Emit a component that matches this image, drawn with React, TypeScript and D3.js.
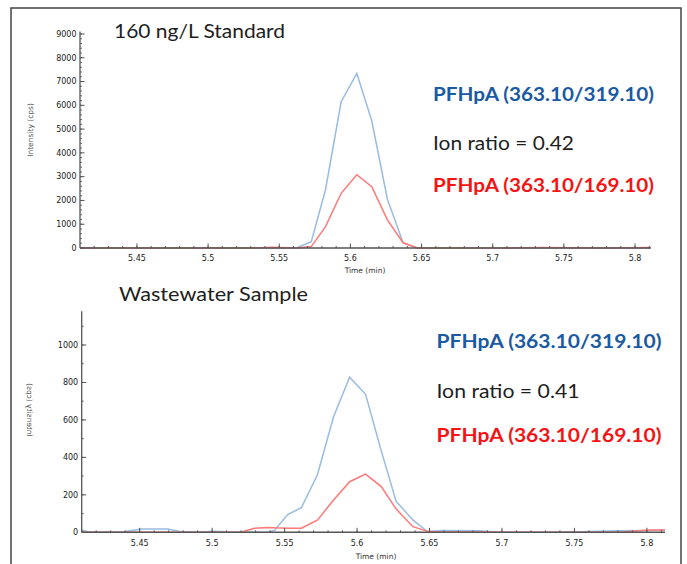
import React from "react";
import * as d3 from "d3";

// ---- Data ----
const topTimes = [5.41, 5.425, 5.48, 5.53, 5.545, 5.562, 5.5725, 5.5825, 5.5935, 5.6045, 5.615, 5.626, 5.637, 5.647, 5.665, 5.675, 5.71, 5.735, 5.78, 5.811];
const topBlue = [0, 0, 0, 0, 0, 0, 265, 2450, 6150, 7340, 5350, 2050, 220, 0, 0, 0, 0, 0, 0, 0];
const topRed = [0, 0, 0, 0, 30, 0, 60, 900, 2300, 3080, 2580, 1180, 220, 0, 0, 0, 0, 20, 0, 20];

const botTimes = [5.41, 5.4145, 5.437, 5.451, 5.4695, 5.4785, 5.4915, 5.5005, 5.506, 5.512, 5.5198, 5.5292, 5.5384, 5.543, 5.5521, 5.5616, 5.5726, 5.5838, 5.5949, 5.6059, 5.6167, 5.627, 5.6385, 5.6488, 5.658, 5.6845, 5.698, 5.74, 5.781, 5.8016, 5.8125];
const botBlue = [12, 3, 0, 18, 18, 3, 0, 5, 4, 0, 0, 0, 0, 10, 95, 132, 306, 617, 828, 737, 435, 165, 66, 3, 10, 8, 0, 0, 8, 10, 12];
const botRed = [0, 0, 0, 0, 0, 0, 0, 0, 0, 0, 0, 21, 26, 24, 22, 22, 65, 172, 270, 311, 244, 124, 30, 5, 2, 2, 0, 0, 0, 12, 12];

const xTickValues = [5.45, 5.5, 5.55, 5.6, 5.65, 5.7, 5.75, 5.8];
const xTickLabels = ["5.45", "5.5", "5.55", "5.6", "5.65", "5.7", "5.75", "5.8"];
const topYTicks = [0, 1000, 2000, 3000, 4000, 5000, 6000, 7000, 8000, 9000];
const botYTicks = [0, 200, 400, 600, 800, 1000];

const titles = ["160 ng/L Standard", "Wastewater Sample"];
const quantLabel = "PFHpA (363.10/319.10)";
const qualLabel = "PFHpA (363.10/169.10)";
const ionRatios = ["Ion ratio = 0.42", "Ion ratio = 0.41"];
const xAxisTitle = "Time (min)";
const yAxisTitle = "Intensity (cps)";

const BLUE_TRACE = "#98bce2";
const RED_TRACE = "#ff7878";
const AXIS = "#555";
const TICKFONT = "DejaVu Sans, sans-serif";
const TEXTFONT = "Lato, 'Open Sans', sans-serif";

type PanelProps = {
  times: number[];
  blue: number[];
  red: number[];
  xDomain: [number, number];
  xRange: [number, number];
  yDomain: [number, number];
  yRange: [number, number];
  yTicks: number[];
  yMinorStep: number;
  yMinorMax: number;
  xLabelY: number;
  xTitle: [number, number];
  yTitle: [number, number];
  mirrorYTitle: boolean;
};

function Panel(p: PanelProps) {
  const x = d3.scaleLinear().domain(p.xDomain).range(p.xRange);
  const y = d3.scaleLinear().domain(p.yDomain).range(p.yRange);
  const line = d3
    .line<number>()
    .x((_, i) => x(p.times[i]))
    .y((v) => y(v));
  const x0 = p.xRange[0];
  const y0 = y(0);
  const minorX = d3.range(5.42, 5.815, 0.01).filter((t) => t <= p.xDomain[1]);
  const minorY = d3.range(0, p.yMinorMax + 1, p.yMinorStep);
  return (
    <g>
      <path d={line(p.blue) || ""} fill="none" stroke={BLUE_TRACE} strokeWidth={1.5} />
      <path d={line(p.red) || ""} fill="none" stroke={RED_TRACE} strokeWidth={1.5} />
      {/* axes */}
      <line x1={x0} x2={x0} y1={p.yRange[1]} y2={y0} stroke={AXIS} strokeWidth={1.3} />
      <line x1={x0} x2={p.xRange[1]} y1={y0} y2={y0} stroke={AXIS} strokeWidth={1.6} />
      {minorY.map((v) => (
        <line key={"my" + v} x1={x0} x2={x0 + 2} y1={y(v)} y2={y(v)} stroke={AXIS} strokeWidth={0.9} />
      ))}
      {p.yTicks.map((v) => (
        <g key={"y" + v}>
          <line x1={x0} x2={x0 + 4.5} y1={y(v)} y2={y(v)} stroke={AXIS} strokeWidth={1} />
          <text x={x0 - 3.5} y={y(v)} dy="0.35em" textAnchor="end" fontFamily={TICKFONT} fontSize={8} fill="#222">
            {v}
          </text>
        </g>
      ))}
      {minorX.map((t) => (
        <line key={"mx" + t} x1={x(t)} x2={x(t)} y1={y0} y2={y0 - 2} stroke={AXIS} strokeWidth={1} />
      ))}
      {xTickValues.map((t, i) => (
        <g key={"x" + t}>
          <line x1={x(t)} x2={x(t)} y1={y0} y2={y0 - 4.5} stroke={AXIS} strokeWidth={1} />
          <text x={x(t)} y={p.xLabelY} dy="0.35em" textAnchor="middle" fontFamily={TICKFONT} fontSize={8} fill="#222">
            {xTickLabels[i]}
          </text>
        </g>
      ))}
      <text x={p.xTitle[0]} y={p.xTitle[1]} dy="0.35em" textAnchor="middle" fontFamily={TICKFONT} fontSize={7.5} fill="#333">
        {xAxisTitle}
      </text>
      <text
        transform={`translate(${p.yTitle[0]},${p.yTitle[1]}) ${p.mirrorYTitle ? "scale(-1,1) " : ""}rotate(-90)`}
        dy="0.35em"
        textAnchor="middle"
        fontFamily={TICKFONT}
        fontSize={7.5}
        fill="#555"
      >
        {yAxisTitle}
      </text>
    </g>
  );
}

function Annot({ x, y1, y2, y3, ratio, w1, w2, w3 }: { x: number; y1: number; y2: number; y3: number; ratio: string; w1: number; w2: number; w3: number }) {
  return (
    <g fontFamily={TEXTFONT}>
      <text x={x} y={y1} fontSize={18.5} fontWeight={700} fill="#1a5aa3" textLength={w1} lengthAdjust="spacingAndGlyphs">
        {quantLabel}
      </text>
      <text x={x} y={y2} fontSize={18.5} fill="#1e1e1e" textLength={w2} lengthAdjust="spacingAndGlyphs">
        {ratio}
      </text>
      <text x={x} y={y3} fontSize={18.5} fontWeight={700} fill="#f51414" textLength={w3} lengthAdjust="spacingAndGlyphs">
        {qualLabel}
      </text>
    </g>
  );
}

export default function App() {
  return (
    <svg width={687} height={564} style={{ position: "absolute", left: 0, top: 0, background: "#fff" }}>
      <rect x={0} y={0} width={687} height={564} fill="#fff" />
      <rect x={11} y={8} width={670} height={570} fill="none" stroke="#444" strokeWidth={1.5} />

      <Panel
        times={topTimes}
        blue={topBlue}
        red={topRed}
        xDomain={[5.41, 5.811]}
        xRange={[80, 650.7]}
        yDomain={[0, 9100]}
        yRange={[248, 31.6]}
        yTicks={topYTicks}
        yMinorStep={200}
        yMinorMax={9000}
        xLabelY={258.5}
        xTitle={[365, 270]}
        yTitle={[30, 130]}
        mirrorYTitle={false}
      />
      <Panel
        times={botTimes}
        blue={botBlue}
        red={botRed}
        xDomain={[5.41, 5.8125]}
        xRange={[81.7, 665]}
        yDomain={[0, 1180]}
        yRange={[532.3, 311.3]}
        yTicks={botYTicks}
        yMinorStep={100}
        yMinorMax={1100}
        xLabelY={543}
        xTitle={[376, 556]}
        yTitle={[30, 410]}
        mirrorYTitle={true}
      />

      <text x={114} y={38} fontFamily={TEXTFONT} fontSize={18.5} fill="#1e1e1e" textLength={171} lengthAdjust="spacingAndGlyphs">
        {titles[0]}
      </text>
      <text x={119} y={300.5} fontFamily={TEXTFONT} fontSize={18.5} fill="#1e1e1e" textLength={189} lengthAdjust="spacingAndGlyphs">
        {titles[1]}
      </text>

      <Annot x={433} y1={101} y2={150} y3={192} ratio={ionRatios[0]} w1={221} w2={141} w3={221} />
      <Annot x={436.5} y1={348} y2={398} y3={441.5} ratio={ionRatios[1]} w1={225} w2={143} w3={225} />
    </svg>
  );
}
